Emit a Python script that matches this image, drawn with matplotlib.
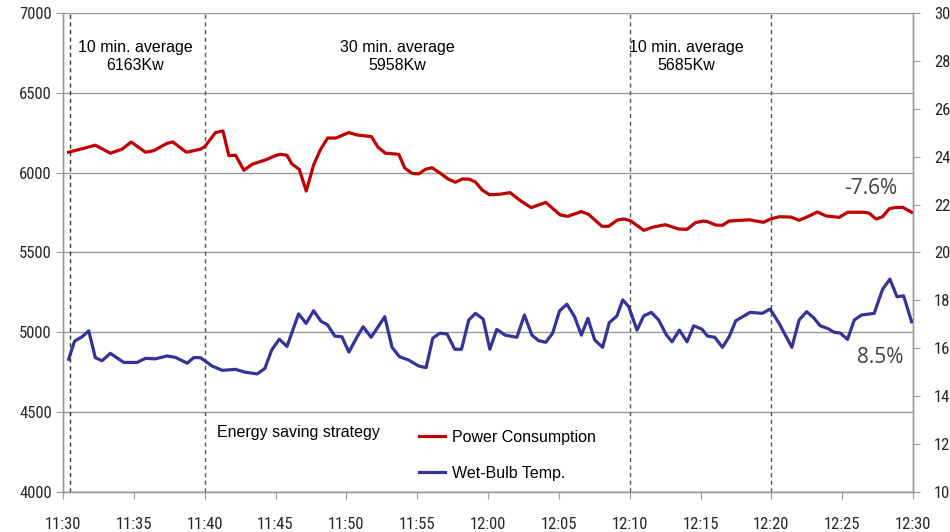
import matplotlib
matplotlib.use("Agg")
import matplotlib.pyplot as plt
from matplotlib import font_manager as fm
from matplotlib.lines import Line2D


def pick_font(*names):
    avail = {f.name for f in fm.fontManager.ttflist}
    for n in names:
        if n in avail:
            return n
    return "DejaVu Sans"


TICK_FONT = pick_font("Liberation Sans Narrow", "Roboto Condensed", "Liberation Sans")
TEXT_FONT = pick_font("Liberation Sans", "Arial", "DejaVu Sans")
PCT_FONT = pick_font("Open Sans", "Noto Sans", "DejaVu Sans")

# ---- data: minutes after 11:30 ----
power_t = [0.40, 2.28, 3.34, 4.17, 4.81, 5.82, 6.41, 7.35, 7.75, 8.71, 9.70, 10.01,
           10.76, 11.29, 11.71, 12.18, 12.77, 13.36, 14.30, 14.98, 15.34, 15.81,
           16.16, 16.68, 17.17, 17.69, 18.16, 18.68, 19.27, 20.16, 20.76, 21.77,
           22.24, 22.76, 23.70, 24.13, 24.64, 25.11, 25.58, 26.05, 26.64, 27.19,
           27.70, 28.18, 28.64, 29.11, 29.58, 30.10, 30.85, 31.56, 32.28, 33.05,
           34.08, 35.10, 35.64, 36.58, 37.10, 38.04, 38.52, 39.10, 39.58, 40.05,
           41.00, 41.70, 42.52, 43.46, 44.05, 44.64, 45.23, 45.49, 46.08, 46.55,
           47.01, 48.43, 49.44, 49.96, 50.55, 51.38, 51.96, 52.55, 53.26, 53.85,
           54.79, 55.38, 56.56, 56.91, 57.39, 57.85, 58.33, 58.68, 59.27, 59.90]
power_kw = [6128, 6172, 6122, 6147, 6192, 6128, 6138, 6184, 6192, 6128, 6147, 6163,
            6251, 6261, 6106, 6109, 6015, 6053, 6080, 6106, 6115, 6109,
            6054, 6021, 5885, 6048, 6142, 6217, 6217, 6251, 6236, 6226,
            6159, 6122, 6115, 6028, 5996, 5992, 6021, 6031, 5996, 5960,
            5940, 5960, 5960, 5942, 5892, 5862, 5865, 5875, 5825, 5781,
            5814, 5735, 5727, 5756, 5739, 5664, 5664, 5702, 5710, 5699,
            5639, 5660, 5674, 5647, 5645, 5687, 5697, 5693, 5672, 5670,
            5697, 5705, 5689, 5710, 5724, 5722, 5702, 5724, 5754, 5729,
            5720, 5752, 5752, 5746, 5710, 5724, 5774, 5781, 5783, 5752]

temp_t = [0.40, 0.82, 1.34, 1.82, 2.28, 2.76, 3.34, 4.29, 5.23, 5.82, 6.52, 7.35,
          7.94, 8.76, 9.23, 9.70, 10.52, 11.24, 12.18, 12.88, 13.71, 14.25, 14.73,
          15.27, 15.81, 16.63, 17.16, 17.69, 18.21, 18.67, 19.19, 19.69, 20.18,
          20.76, 21.19, 21.75, 22.71, 23.23, 23.75, 24.40, 25.11, 25.63, 26.10,
          26.59, 27.11, 27.65, 28.13, 28.64, 29.12, 29.66, 30.13, 30.62, 31.21,
          32.04, 32.57, 33.10, 33.57, 34.08, 34.56, 35.05, 35.57, 36.11, 36.59,
          37.05, 37.53, 38.09, 38.56, 39.10, 39.51, 39.93, 40.52, 40.99, 41.53,
          42.05, 42.57, 42.99, 43.51, 44.05, 44.52, 45.10, 45.49, 46.01, 46.55,
          47.02, 47.49, 48.50, 49.37, 49.91, 50.55, 51.45, 51.96, 52.49, 52.98,
          53.45, 53.97, 54.44, 54.86, 55.38, 55.85, 56.37, 57.26, 57.85, 58.37,
          58.87, 59.34, 59.90]
temp_c = [15.54, 16.30, 16.48, 16.73, 15.61, 15.48, 15.79, 15.41, 15.41, 15.58, 15.56, 15.68,
          15.62, 15.38, 15.61, 15.61, 15.26, 15.08, 15.12, 15.00, 14.93, 15.16, 15.93,
          16.38, 16.08, 17.44, 17.04, 17.57, 17.13, 16.98, 16.51, 16.48, 15.84,
          16.48, 16.90, 16.46, 17.32, 16.04, 15.65, 15.51, 15.26, 15.19, 16.42,
          16.63, 16.60, 15.96, 15.96, 17.18, 17.46, 17.22, 15.96, 16.79, 16.55,
          16.46, 17.39, 16.55, 16.32, 16.25, 16.63, 17.56, 17.84, 17.32, 16.55,
          17.25, 16.35, 16.04, 17.07, 17.35, 18.02, 17.74, 16.76, 17.35, 17.50,
          17.18, 16.58, 16.27, 16.76, 16.27, 16.94, 16.80, 16.51, 16.46, 16.04,
          16.48, 17.15, 17.50, 17.46, 17.64, 17.04, 16.04, 17.18, 17.53, 17.28,
          16.94, 16.83, 16.67, 16.64, 16.37, 17.18, 17.39, 17.46, 18.46, 18.89,
          18.15, 18.19, 17.11]

x_ticks = [0, 5, 10, 15, 20, 25, 30, 35, 40, 45, 50, 55, 60]
x_labels = ["11:30", "11:35", "11:40", "11:45", "11:50", "11:55", "12:00",
            "12:05", "12:10", "12:15", "12:20", "12:25", "12:30"]
left_ticks = [4000, 4500, 5000, 5500, 6000, 6500, 7000]
right_ticks = [10, 12, 14, 16, 18, 20, 22, 24, 26, 28, 30]
dividers = [0.5, 10, 40, 50]

period_labels = ["10 min. average\n6163Kw", "30 min. average\n5958Kw", "10 min. average\n5685Kw"]
period_pos = [(5.1, 6725), (23.6, 6725), (44.0, 6725)]

RED = "#C00000"
BLUE = "#333399"
GRID = "#9a9a9a"
TXT = "#262626"

fig = plt.figure(figsize=(9.5, 5.32), dpi=100)
ax = fig.add_axes([63 / 950, 1 - 492 / 532, 850 / 950, 479 / 532])
ax2 = ax.twinx()

ax.set_xlim(0, 60)
ax.set_ylim(4000, 7000)
ax2.set_ylim(10, 30)

ax.spines["top"].set_visible(False)
ax2.spines["top"].set_visible(False)
for a in (ax, ax2):
    for s in ["left", "right", "bottom"]:
        a.spines[s].set_color(GRID)
        a.spines[s].set_linewidth(1)

ax.set_yticks(left_ticks)
ax.set_yticklabels([str(v) for v in left_ticks], fontfamily=TICK_FONT, fontsize=12, color=TXT)
ax2.set_yticks(right_ticks)
ax2.set_yticklabels([str(v) for v in right_ticks], fontfamily=TICK_FONT, fontsize=12, color=TXT)
ax.set_xticks(x_ticks)
ax.set_xticklabels(x_labels, fontfamily=TICK_FONT, fontsize=12, color=TXT)

ax.tick_params(axis="y", direction="out", length=5, color=GRID, pad=3)
ax2.tick_params(axis="y", direction="out", length=5, color=GRID, pad=10)
ax.tick_params(axis="x", direction="out", length=5, color=GRID, pad=13)

ax.yaxis.grid(True, color=GRID, linewidth=1)
ax.set_axisbelow(True)

for d in dividers:
    ax.axvline(d, color="#333333" if d < 1 else "#555555", linestyle=(0, (3, 2.5)),
               linewidth=1, zorder=1)

ax.plot(power_t, power_kw, color=RED, linewidth=2.3, zorder=3, solid_joinstyle="round")
ax2.plot(temp_t, temp_c, color=BLUE, linewidth=2.3, zorder=3, solid_joinstyle="round")

for lbl, (px, py) in zip(period_labels, period_pos):
    ax.text(px, py, lbl, ha="center", va="center", multialignment="center",
            fontfamily=TEXT_FONT, fontsize=11.5, color="black", linespacing=1.25)

ax.text(10.9, 4375, "Energy saving strategy", ha="left", va="center",
        fontfamily=TEXT_FONT, fontsize=11.5, color="black")

ax.text(57.0, 5898, "-7.6%", ha="center", va="center", fontfamily=PCT_FONT,
        fontsize=15, color="#404040")
ax.text(57.7, 4845, "8.5%", ha="center", va="center", fontfamily=PCT_FONT,
        fontsize=15, color="#404040")

handles = [Line2D([], [], color=RED, linewidth=2.3), Line2D([], [], color=BLUE, linewidth=2.3)]
leg = ax.legend(handles, ["Power Consumption", "Wet-Bulb Temp."], loc="upper left",
                bbox_to_anchor=(419 / 950, 1 - 430 / 532), bbox_transform=fig.transFigure,
                frameon=False, handlelength=1.6, handletextpad=0.45, labelspacing=1.3,
                borderpad=0, borderaxespad=0,
                prop={"family": TEXT_FONT, "size": 11.5})
ax2.set_zorder(ax.get_zorder() + 1)
ax2.patch.set_visible(False)

fig.savefig("out.png", dpi=100)
